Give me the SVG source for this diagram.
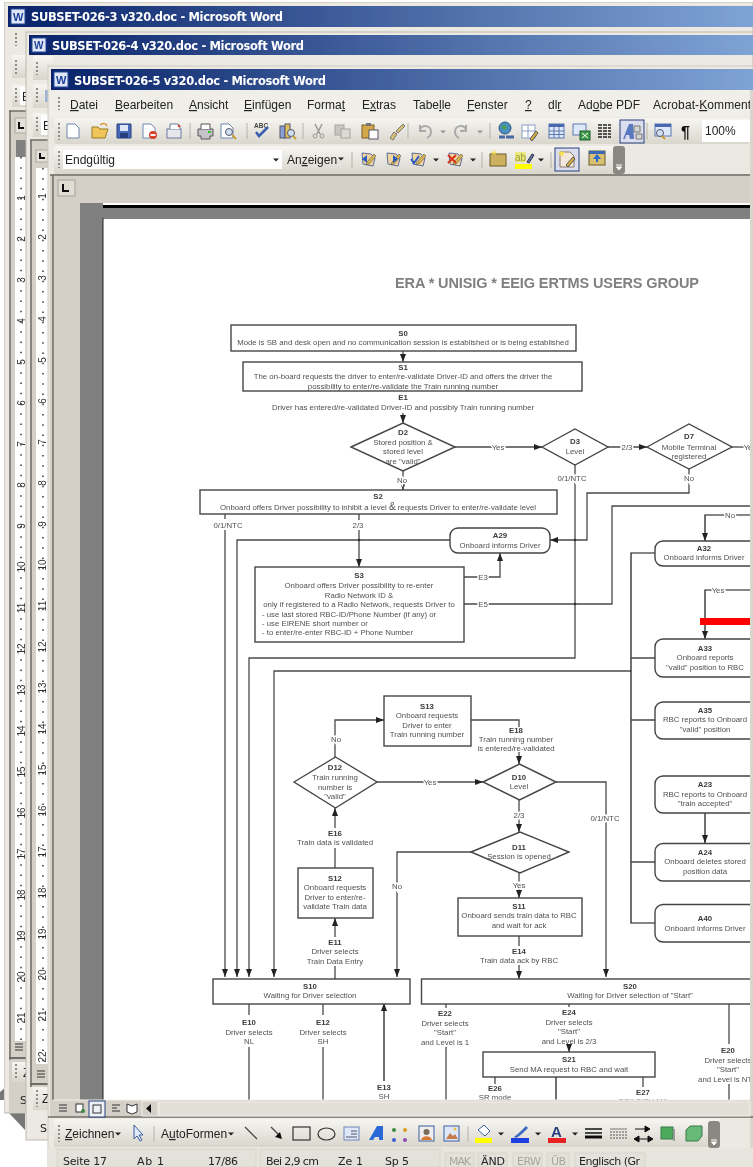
<svg xmlns="http://www.w3.org/2000/svg" width="753" height="1167" viewBox="0 0 753 1167">
<style>
.ui{font-family:"Liberation Sans",Arial,sans-serif;font-size:12px;fill:#222}
.tt{font-family:"DejaVu Sans",sans-serif;font-size:11.5px;font-weight:bold;fill:#fff}
.rn{font-family:"Liberation Sans",Arial,sans-serif;font-size:10px;fill:#333;text-anchor:middle}
.st{font-family:"DejaVu Sans",sans-serif;font-size:11px;fill:#222}
.off{fill:#a8a69f}
.u{text-decoration:underline}
.t{font-family:"Liberation Sans",Arial,sans-serif;font-size:7.8px;fill:#505050;text-anchor:middle}
.b{font-weight:bold;fill:#3a3a3a}
.l{text-anchor:start}
.h{stroke:#fff;stroke-width:3px;paint-order:stroke}
.box{fill:#fff;stroke:#444;stroke-width:1.4}
.c{fill:none;stroke:#4a4a4a;stroke-width:1.3}
.k{fill:none;stroke:#111;stroke-width:1.2}
.a{marker-end:url(#ar)}
.band{fill:url(#bandg)}
.grip{fill:none;stroke:#8f8c84;stroke-width:2;stroke-dasharray:2 2}
.sep{stroke:#b5b2a8;stroke-width:1}
.cell{fill:#e4e1da;stroke:#d8d5cc}
.dd{fill:#222}
</style>
<defs>
<linearGradient id="tb" x1="0" x2="1" y1="0" y2="0"><stop offset="0" stop-color="#0a246a"/><stop offset="1" stop-color="#7fa3d5"/></linearGradient>
<linearGradient id="bandg" x1="0" x2="0" y1="0" y2="1"><stop offset="0" stop-color="#f6f5f1"/><stop offset="1" stop-color="#d9d6cd"/></linearGradient>
<filter id="soft" x="0" y="0" width="1" height="1"><feGaussianBlur stdDeviation="0.45"/></filter>
<clipPath id="pg"><rect x="103" y="219" width="647" height="881"/></clipPath>
<clipPath id="w3"><rect x="4" y="0" width="22" height="1167"/></clipPath>
<marker id="ar" markerUnits="userSpaceOnUse" markerWidth="9" markerHeight="7" refX="8" refY="3.500" orient="auto"><path d="M0 .5L8 3.500L0 6.500z" fill="#222"/></marker>
<symbol id="doc" overflow="visible"><path d="M-6-7h8l4 4v10h-12z" fill="#fff" stroke="#6f86b0"/></symbol>
<symbol id="dico" overflow="visible"><path d="M-6-6l9 1 4 4-2 8-10-2z" fill="#f2d6a0" stroke="#5b6a9a"/><path d="M-1 3l7-8 2 2-7 8-3 1z" fill="#d9b64f" stroke="#555" stroke-width=".6"/></symbol>
<symbol id="dd" overflow="visible"><path d="M-3-1.500h6l-3 3z" class="dd"/></symbol>
</defs>
<rect width="753" height="1167" fill="#fff"/>
<path d="M0 1092L14 1080V1100H0zM9 1113H25V1130z" fill="#777"/>
<g filter="url(#soft)">
<g id="window-3">
<rect x="4" y="2" width="749" height="1111" fill="#ece9e3" stroke="#bcb9b0"/>
<rect x="8" y="6" width="745" height="21" fill="url(#tb)"/>
<rect x="11" y="9" width="14" height="15" fill="#dfe6f5" stroke="#274a9c"/><text x="13" y="21" font-family="Liberation Sans,sans-serif" font-size="11" font-weight="bold" fill="#1d3f9a">W</text>
<text class="tt" x="31" y="21" textLength="252">SUBSET-026-3 v320.doc - Microsoft Word</text>
<g clip-path="url(#w3)">
<line x1="16" y1="33" x2="16" y2="46" class="grip"/>
<rect x="12" y="55" width="20" height="23" class="band"/><line x1="16" y1="60" x2="16" y2="75" class="grip"/>
<rect x="12" y="85" width="20" height="22" class="band"/><line x1="16" y1="88" x2="16" y2="102" class="grip"/><rect x="20" y="87" width="10" height="18" fill="#fff"/><text class="ui" x="22" y="101">E</text>
<rect x="9" y="111" width="20" height="1002" fill="#d4d0c8"/><line x1="9" y1="111" x2="30" y2="111" stroke="#6e6c66" stroke-width="1.500"/><line x1="10" y1="111" x2="10" y2="1060" stroke="#6e6c66" stroke-width="1.500"/>
<rect x="15" y="118" width="14" height="15" fill="#e4e1da" stroke="#aaa79e"/><path d="M19 122v6h5" fill="none" stroke="#111" stroke-width="2"/>
<rect x="16" y="140" width="10" height="17" fill="#808080"/>
<rect x="15" y="157" width="11" height="884" fill="#fff"/>
<line x1="21" y1="157" x2="21" y2="1040" stroke="#333" stroke-width="1.500" stroke-dasharray="1.500 8.750"/>
<text class="rn" transform="translate(25 198) rotate(-90)">1</text><text class="rn" transform="translate(25 239) rotate(-90)">2</text><text class="rn" transform="translate(25 280) rotate(-90)">3</text><text class="rn" transform="translate(25 321) rotate(-90)">4</text><text class="rn" transform="translate(25 362) rotate(-90)">5</text><text class="rn" transform="translate(25 403) rotate(-90)">6</text><text class="rn" transform="translate(25 444) rotate(-90)">7</text><text class="rn" transform="translate(25 485) rotate(-90)">8</text><text class="rn" transform="translate(25 526) rotate(-90)">9</text><text class="rn" transform="translate(25 567) rotate(-90)">10</text><text class="rn" transform="translate(25 608) rotate(-90)">11</text><text class="rn" transform="translate(25 649) rotate(-90)">12</text><text class="rn" transform="translate(25 690) rotate(-90)">13</text><text class="rn" transform="translate(25 731) rotate(-90)">14</text><text class="rn" transform="translate(25 772) rotate(-90)">15</text><text class="rn" transform="translate(25 813) rotate(-90)">16</text><text class="rn" transform="translate(25 854) rotate(-90)">17</text><text class="rn" transform="translate(25 895) rotate(-90)">18</text><text class="rn" transform="translate(25 936) rotate(-90)">19</text><text class="rn" transform="translate(25 977) rotate(-90)">20</text><text class="rn" transform="translate(25 1018) rotate(-90)">21</text>
<path d="M15 1044h8M15 1047h8M15 1050h8" stroke="#333"/>
<line x1="9" y1="1058" x2="30" y2="1058" stroke="#6e6c66" stroke-width="2"/>
<rect x="12" y="1062" width="20" height="20" class="band"/><line x1="16" y1="1064" x2="16" y2="1080" class="grip"/><text class="ui" x="23" y="1077">Z</text>
<text class="st" x="20" y="1104">S</text>
</g>
</g>
<g id="window-4">
<rect x="26" y="32" width="727" height="1108" fill="#ece9e3" stroke="#bcb9b0"/>
<rect x="29" y="35" width="724" height="20" fill="url(#tb)"/>
<rect x="32" y="38" width="14" height="14" fill="#dfe6f5" stroke="#274a9c"/><text x="34" y="49" font-family="Liberation Sans,sans-serif" font-size="10" font-weight="bold" fill="#1d3f9a">W</text>
<text class="tt" x="52" y="50" textLength="252">SUBSET-026-4 v320.doc - Microsoft Word</text>
<rect x="33" y="56" width="20" height="24" class="band"/><line x1="37" y1="62" x2="37" y2="75" class="grip"/>
<rect x="33" y="84" width="20" height="24" class="band"/><line x1="37" y1="88" x2="37" y2="103" class="grip"/><rect x="45" y="90" width="6" height="12" fill="#9db3d4"/>
<rect x="33" y="113" width="20" height="24" class="band"/><line x1="37" y1="117" x2="37" y2="132" class="grip"/><rect x="41" y="115" width="10" height="20" fill="#fff"/><text class="ui" x="43" y="130">E</text>
<rect x="30" y="140" width="20" height="947" fill="#d4d0c8"/><line x1="30" y1="140" x2="50" y2="140" stroke="#6e6c66" stroke-width="1.500"/><line x1="31" y1="140" x2="31" y2="1087" stroke="#6e6c66" stroke-width="1.500"/>
<rect x="36" y="150" width="12" height="12" fill="#e4e1da" stroke="#aaa79e"/><path d="M40 153v5h5" fill="none" stroke="#111" stroke-width="2"/>
<rect x="36" y="168" width="12" height="896" fill="#fff"/>
<line x1="43" y1="168" x2="43" y2="1062" stroke="#333" stroke-width="1.500" stroke-dasharray="1.500 8.750"/>
<text class="rn" transform="translate(46 196) rotate(-90)">1</text><text class="rn" transform="translate(46 237) rotate(-90)">2</text><text class="rn" transform="translate(46 278) rotate(-90)">3</text><text class="rn" transform="translate(46 319) rotate(-90)">4</text><text class="rn" transform="translate(46 360) rotate(-90)">5</text><text class="rn" transform="translate(46 401) rotate(-90)">6</text><text class="rn" transform="translate(46 442) rotate(-90)">7</text><text class="rn" transform="translate(46 483) rotate(-90)">8</text><text class="rn" transform="translate(46 524) rotate(-90)">9</text><text class="rn" transform="translate(46 565) rotate(-90)">10</text><text class="rn" transform="translate(46 606) rotate(-90)">11</text><text class="rn" transform="translate(46 647) rotate(-90)">12</text><text class="rn" transform="translate(46 688) rotate(-90)">13</text><text class="rn" transform="translate(46 729) rotate(-90)">14</text><text class="rn" transform="translate(46 770) rotate(-90)">15</text><text class="rn" transform="translate(46 811) rotate(-90)">16</text><text class="rn" transform="translate(46 852) rotate(-90)">17</text><text class="rn" transform="translate(46 893) rotate(-90)">18</text><text class="rn" transform="translate(46 934) rotate(-90)">19</text><text class="rn" transform="translate(46 975) rotate(-90)">20</text><text class="rn" transform="translate(46 1016) rotate(-90)">21</text><text class="rn" transform="translate(46 1057) rotate(-90)">22</text>
<path d="M37 1071h8M37 1074h8M37 1077h8" stroke="#333"/>
<line x1="30" y1="1084" x2="50" y2="1084" stroke="#6e6c66" stroke-width="2"/>
<rect x="33" y="1087" width="20" height="23" class="band"/><line x1="37" y1="1090" x2="37" y2="1107" class="grip"/><text class="ui" x="42" y="1103">Z</text>
<text class="st" x="40" y="1132">S</text>
</g>
<g id="window-5">
<rect x="48" y="66" width="705" height="1101" fill="#ece9e3" stroke="#cfccc4"/>
<rect x="51" y="69" width="702" height="21" fill="url(#tb)"/>
<rect x="54" y="72" width="14" height="15" fill="#dfe6f5" stroke="#274a9c"/><text x="56" y="84" font-family="Liberation Sans,sans-serif" font-size="11" font-weight="bold" fill="#1d3f9a">W</text>
<text class="tt" x="74" y="85" textLength="252">SUBSET-026-5 v320.doc - Microsoft Word</text>
<rect x="50" y="90" width="700" height="27" fill="#efeee9"/>
<line x1="59" y1="97" x2="59" y2="110" class="grip"/>
<g class="ui">
<text x="70" y="109"><tspan class="u">D</tspan>atei</text>
<text x="115" y="109"><tspan class="u">B</tspan>earbeiten</text>
<text x="189" y="109"><tspan class="u">A</tspan>nsicht</text>
<text x="244" y="109"><tspan class="u">E</tspan>infügen</text>
<text x="307" y="109">Forma<tspan class="u">t</tspan></text>
<text x="362" y="109">E<tspan class="u">x</tspan>tras</text>
<text x="413" y="109">Tabe<tspan class="u">l</tspan>le</text>
<text x="467" y="109"><tspan class="u">F</tspan>enster</text>
<text x="525" y="109"><tspan class="u">?</tspan></text>
<text x="548" y="109">dl<tspan class="u">r</tspan></text>
<text x="578" y="109">Ad<tspan class="u">o</tspan>be PDF</text>
<text x="653" y="109" textLength="105">Acrobat-<tspan class="u">K</tspan>ommenta</text>
</g>
<rect x="54" y="118" width="696" height="26" rx="3" class="band"/>
<line x1="59" y1="123" x2="59" y2="140" class="grip"/>
<rect x="54" y="146" width="570" height="28" rx="3" class="band"/>
<line x1="59" y1="151" x2="59" y2="168" class="grip"/>
<rect x="613" y="146" width="12" height="28" rx="3" fill="#8a8880"/><path d="M616 165h6M616.500 167h5l-2.500 3z" stroke="#fff" fill="#fff"/>
<g id="toolbar-1">
<use href="#doc" x="73" y="131"/>
<path d="M92 127h6l2 2h8l-3 9H92z" fill="#f0c65a" stroke="#9c7a20"/><path d="M100 125c3-2 6-2 7 1" fill="none" stroke="#d8902a" stroke-width="1.500"/>
<path d="M117 124h14v14h-14z" fill="#4a68b8" stroke="#26407f"/><rect x="120" y="125" width="8" height="6" fill="#dfe6f5"/><rect x="120" y="133" width="8" height="5" fill="#26407f"/>
<use href="#doc" x="149" y="131"/><circle cx="153" cy="135" r="4" fill="#d8402a"/><rect x="150.500" y="134" width="5" height="2" fill="#fff"/>
<rect x="167" y="129" width="14" height="9" fill="#e8e8ec" stroke="#6a7aa0"/><path d="M170 129v-5h8l2 2v3" fill="#fff" stroke="#6a7aa0"/><circle cx="179" cy="126" r="1.300" fill="#d8402a"/>
<line x1="190" y1="123" x2="190" y2="139" class="sep"/>
<path d="M198 129h15v7h-3v3h-9v-3h-3z" fill="#c4c4c8" stroke="#555"/><path d="M201 129v-5h9v5" fill="#fff" stroke="#555"/><rect x="208" y="131" width="3" height="2" fill="#32c832"/>
<use href="#doc" x="227" y="131"/><circle cx="229" cy="132" r="3.500" fill="#cfe0f5" stroke="#556"/><path d="M232 135l4 4" stroke="#c8a030" stroke-width="2"/>
<line x1="247" y1="123" x2="247" y2="139" class="sep"/>
<text x="254" y="128" font-family="Liberation Sans,sans-serif" font-size="6.500" font-weight="bold" fill="#444">ABC</text><path d="M256 132l3 4 9-9" fill="none" stroke="#3a5fb0" stroke-width="2.500"/>
<rect x="280" y="126" width="5" height="12" fill="#8aa0d8" stroke="#556"/><rect x="285" y="124" width="5" height="14" fill="#e2c060" stroke="#556"/><circle cx="291" cy="133" r="3.500" fill="#cfe0f5" stroke="#556"/><path d="M293 136l3 3" stroke="#c8a030" stroke-width="2"/>
<line x1="303" y1="123" x2="303" y2="139" class="sep"/>
<path d="M315 124l5 10M322 124l-5 10" stroke="#9a9a9a" stroke-width="1.500"/><circle cx="315" cy="136" r="2" fill="none" stroke="#9a9a9a"/><circle cx="322" cy="136" r="2" fill="none" stroke="#9a9a9a"/>
<rect x="335" y="125" width="9" height="10" fill="#c8c6c0" stroke="#a6a49c"/><rect x="341" y="129" width="9" height="9" fill="#dcdad4" stroke="#a6a49c"/>
<rect x="362" y="125" width="12" height="13" fill="#d4a94a" stroke="#7a5e20"/><rect x="366" y="123" width="5" height="3" fill="#777"/><rect x="369" y="130" width="9" height="9" fill="#fff" stroke="#556"/>
<path d="M390 138l4-6 3 2-4 6zM396 131l7-7 2 2-7 7z" fill="#d8c070" stroke="#777"/>
<line x1="408" y1="123" x2="408" y2="139" class="sep"/>
<path d="M420 130c2-6 11-5 11 2 0 3-2 5-4 6M420 125v6h6" fill="none" stroke="#aaa" stroke-width="2"/><use href="#dd" x="443" y="132" opacity=".4"/>
<path d="M466 130c-2-6-11-5-11 2 0 3 2 5 4 6M466 125v6h-6" fill="none" stroke="#aaa" stroke-width="2"/><use href="#dd" x="480" y="132" opacity=".4"/>
<line x1="490" y1="123" x2="490" y2="139" class="sep"/>
<circle cx="505" cy="128" r="6" fill="#4a90c0" stroke="#2a5a80"/><path d="M501 127c2-3 5-2 6 1l-2 2z" fill="#4aa050"/><path d="M499 137h6M506 137h8" stroke="#4a68a8" stroke-width="3"/>
<rect x="522" y="125" width="13" height="13" fill="#fff" stroke="#8aa0c8"/><path d="M528 125v13M522 131h13" stroke="#8aa0c8"/><path d="M530 139l6-8 2 2-6 8z" fill="#d8b040" stroke="#555"/>
<rect x="549" y="124" width="15" height="14" fill="#dfe8f8" stroke="#5a78b0"/><rect x="549" y="124" width="15" height="3" fill="#4a68b0"/><path d="M554 127v11M559 127v11M549 131h15M549 134.500h15" stroke="#5a78b0"/>
<rect x="573" y="124" width="13" height="11" fill="#dfe8f8" stroke="#5a78b0"/><rect x="580" y="131" width="10" height="9" fill="#3f9a4a" stroke="#1d5f2a"/><path d="M582 133l6 5M588 133l-6 5" stroke="#fff"/>
<path d="M598 125h13M598 128h13M598 131h13M598 134h13M598 137h13" stroke="#222" stroke-width="1.500" stroke-dasharray="4 1"/>
<rect x="620" y="120" width="24" height="23" fill="#dbdcec" stroke="#26407f"/><path d="M623 139l6-15h4l1 15h-4l-1-4h-3l-1 4z" fill="#5a78c0"/><path d="M634 126h6v6h-6zM636 134h6v5h-6z" fill="#d4d4d4" stroke="#777"/>
<line x1="647" y1="123" x2="647" y2="139" class="sep"/>
<rect x="655" y="124" width="16" height="12" fill="#dfe8f8" stroke="#5a78b0"/><rect x="655" y="124" width="16" height="3" fill="#4a68b0"/><circle cx="660" cy="133" r="3.500" fill="#cfe0f5" stroke="#556"/><path d="M662 136l3 3" stroke="#c8a030" stroke-width="2"/>
<text x="681" y="138" font-family="Liberation Sans,sans-serif" font-size="16" font-weight="bold" fill="#111">¶</text>
<rect x="702" y="120" width="48" height="22" fill="#fff"/><text class="ui" x="705" y="135">100%</text>
</g>
<g id="toolbar-2">
<rect x="63" y="150" width="219" height="19" fill="#fff"/><text class="ui" x="65" y="164">Endgültig</text><use href="#dd" x="276" y="160"/>
<text class="ui" x="287" y="164">An<tspan class="u">z</tspan>eigen</text><use href="#dd" x="341" y="159"/>
<line x1="352" y1="152" x2="352" y2="168" class="sep"/>
<use href="#dico" x="368" y="159"/><path d="M362 159l5-4v8z" fill="#2a5ac0"/>
<use href="#dico" x="393" y="159"/><path d="M398 159l-5-4v8z" fill="#2a5ac0"/>
<use href="#dico" x="418" y="159"/><path d="M411 159l3 4 5-7" fill="none" stroke="#2a5ac0" stroke-width="2"/><use href="#dd" x="436" y="160"/>
<use href="#dico" x="455" y="159"/><path d="M448 155l8 8M456 155l-8 8" stroke="#d8301a" stroke-width="2"/><use href="#dd" x="473" y="160"/>
<line x1="482" y1="152" x2="482" y2="168" class="sep"/>
<rect x="490" y="154" width="16" height="12" fill="#cdb060" stroke="#6a5a2a"/><path d="M492 149l2 3 2-3-1 3 3 0-3 1 1 3-2-2-2 2 1-3-3-1h3z" fill="#f6e050"/>
<rect x="515" y="164" width="17" height="5" fill="#ffff00"/><text x="515" y="161" font-family="Liberation Sans,sans-serif" font-size="10" fill="#222">ab</text><rect x="515" y="152" width="11" height="10" fill="#e8e840" opacity=".6"/><path d="M527 162l5-8 2 1-5 8z" fill="#5a78b0" stroke="#334"/><use href="#dd" x="541" y="160"/>
<line x1="551" y1="152" x2="551" y2="168" class="sep"/>
<rect x="555" y="148" width="24" height="23" fill="#dbdcec" stroke="#26407f"/><path d="M560 152h10l4 4v11h-14z" fill="#f4e8dc" stroke="#8a7a6a"/><path d="M566 165l7-8 2 2-7 8z" fill="#d8b040" stroke="#555"/><path d="M561 149l1 3 3 0-2 2 1 3-3-2-2 2 1-3-2-2h3z" fill="#f6e050"/>
<rect x="589" y="151" width="16" height="14" fill="#d8c070" stroke="#6a5a2a"/><rect x="589" y="151" width="16" height="3" fill="#3a68b8"/><path d="M597 154l4 5h-3v3h-2v-3h-3z" fill="#2a68d0"/>
</g>
<rect x="50" y="174" width="700" height="930" fill="#d4d0c8"/>
<line x1="50" y1="175" x2="750" y2="175" stroke="#6e6c66" stroke-width="1.500"/>
<line x1="53" y1="175" x2="53" y2="1104" stroke="#6e6c66" stroke-width="1.500"/>
<rect x="58" y="180" width="17" height="16" fill="#e0ddd5" stroke="#a3a198"/><path d="M63 184v7h6" fill="none" stroke="#111" stroke-width="2"/>
<rect x="80" y="203" width="670" height="897" fill="#808080"/>
<rect x="103" y="203" width="647" height="2" fill="#fff"/>
<rect x="103" y="205" width="647" height="3" fill="#000"/>
<rect x="103" y="219" width="647" height="881" fill="#fff"/>
<line x1="103" y1="218" x2="103" y2="1100" stroke="#222"/>
</g>
<g clip-path="url(#pg)">
<text id="page-title" x="395" y="287.500" font-family="Liberation Sans,Arial,sans-serif" font-size="14.500" font-weight="bold" fill="#808080" textLength="304">ERA * UNISIG * EEIG ERTMS USERS GROUP</text>
<g id="connectors">
<path class="c a" d="M403 351V362"/>
<path class="c a" d="M403 413V423"/>
<path class="c a" d="M403 471V490"/>
<path class="c a" d="M455 447H542"/>
<path class="c a" d="M608 447H647"/>
<path class="c" d="M732 447H750"/>
<path class="c a" d="M689 468V493H587V540H550"/>
<path class="c a" d="M225 514V519M225 530V977"/>
<path class="c a" d="M359 514V520M359 530V567"/>
<path class="c a" d="M450 540H237V977"/>
<path class="c a" d="M464 577H500V553"/>
<path class="c" d="M464 604H612V506H750"/>
<path class="c a" d="M575 465V658H249V977"/>
<path class="c a" d="M631 671H274V977"/>
<path class="k" d="M655 553H631V923H655"/>
<path class="c" d="M631 658H655M631 720H655M631 862H655"/>
<path class="k a" d="M750 515H705V541"/>
<path class="k a" d="M750 590H705V639"/>
<path class="k a" d="M705 813V843"/>
<path class="c a" d="M335 757V720H384"/>
<path class="c" d="M471 720H519V727"/>
<path class="c a" d="M519 752V764"/>
<path class="c a" d="M377 782H483"/>
<path class="c a" d="M556 782H606V977"/>
<path class="c a" d="M519 800V832"/>
<path class="c a" d="M471 852H397V977"/>
<path class="c a" d="M519 873V898"/>
<path class="c" d="M519 936V946"/>
<path class="c a" d="M519 965V979"/>
<path class="c" d="M335 848V868"/>
<path class="c a" d="M335 828V808"/>
<path class="c a" d="M335 937V918"/>
<path class="c" d="M335 966V979"/>
<path class="c" d="M249 1003V1015M249 1047V1100"/>
<path class="c" d="M323 1003V1015M323 1047V1100"/>
<path class="k a" d="M384 1081V1003"/>
<path class="c" d="M446 1003V1008M446 1047V1100"/>
<path class="c" d="M569 1003V1007"/>
<path class="c a" d="M569 1045V1052"/>
<path class="c" d="M495 1077V1084"/>
<path class="k" d="M556 1077V1100"/>
<path class="c" d="M643 1077V1087"/>
<path class="c" d="M729 1003V1044M729 1084V1100"/>
<circle cx="359" cy="540" r="1.300" fill="#333"/><circle cx="575" cy="540" r="1.300" fill="#333"/><circle cx="575" cy="604" r="1.300" fill="#333"/>
</g>
<g id="S0"><rect class="box" x="231" y="325" width="345" height="26"/><text class="t b" x="403" y="336">S0</text><text class="t" x="403" y="345">Mode is SB and desk open and no communication session is established or is being established</text></g>
<g id="S1"><rect class="box" x="243" y="362" width="339" height="29"/><text class="t b" x="403" y="370">S1</text><text class="t" x="403" y="379">The on-board requests the driver to enter/re-validate Driver-ID and offers the driver the</text><text class="t" x="403" y="389">possibility to enter/re-validate the Train running number</text></g>
<g id="E1"><text class="t b" x="403" y="400">E1</text><text class="t" x="403" y="410">Driver has entered/re-validated Driver-ID and possibly Train running number</text></g>
<g id="D2"><polygon class="box" points="351,447 403,423 455,447 403,471"/><text class="t b" x="403" y="435">D2</text><text class="t" x="403" y="445">Stored  position &amp;</text><text class="t" x="403" y="454">stored level</text><text class="t" x="403" y="464">are "valid"</text></g>
<text class="t h" x="498" y="450">Yes</text><text class="t h" x="402" y="483">No</text>
<g id="D3"><polygon class="box" points="542,447 575,429 608,447 575,465"/><text class="t b" x="575" y="444">D3</text><text class="t" x="575" y="454">Level</text></g>
<text class="t h" x="627" y="450">2/3</text><text class="t h" x="572" y="481">0/1/NTC</text>
<g id="D7"><polygon class="box" points="647,447 689,424 732,447 689,469"/><text class="t b" x="689" y="439">D7</text><text class="t" x="689" y="450">Mobile Terminal</text><text class="t" x="689" y="459">registered</text></g>
<text class="t h" x="750" y="450">Yes</text><text class="t h" x="689" y="481">No</text>
<g id="S2"><rect class="box" x="200" y="490" width="357" height="24"/><text class="t b" x="378" y="499">S2</text><text class="t" x="378" y="510">Onboard offers Driver possibility to inhibit a level <tspan font-size="10">&amp;</tspan> requests Driver to enter/re-validate level</text></g>
<text class="t h" x="228" y="528">0/1/NTC</text><text class="t h" x="358" y="528">2/3</text>
<g id="A29"><rect class="box" x="450" y="528" width="100" height="25" rx="8"/><text class="t b" x="500" y="538">A29</text><text class="t" x="500" y="548">Onboard informs Driver</text></g>
<g id="S3"><rect class="box" x="255" y="567" width="209" height="75"/><text class="t b" x="359" y="578">S3</text><text class="t" x="359" y="588">Onboard offers Driver possibility to re-enter</text><text class="t" x="359" y="598">Radio Network ID &amp;</text><text class="t" x="359" y="607">only if registered to a Radio Network, requests Driver to</text><text class="t l" x="262" y="616.500">- use last stored RBC-ID/Phone Number (if any) or</text><text class="t l" x="262" y="626">- use EIRENE short number or</text><text class="t l" x="262" y="635">- to enter/re-enter RBC-ID + Phone Number</text></g>
<text class="t h" x="483" y="580">E3</text><text class="t h" x="483" y="607">E5</text>
<text class="t h" x="730" y="518">No</text><text class="t h" x="718" y="593">Yes</text>
<rect id="red-bar" x="700" y="618" width="53" height="7" fill="#f00"/>
<g id="A32"><rect class="box" x="655" y="541" width="120" height="25" rx="8"/><text class="t b" x="704" y="550.500">A32</text><text class="t" x="704" y="560">Onboard informs Driver</text></g>
<g id="A33"><rect class="box" x="655" y="639" width="120" height="38" rx="8"/><text class="t b" x="705" y="650.500">A33</text><text class="t" x="705" y="660">Onboard reports</text><text class="t" x="705" y="670">"valid" position to RBC</text></g>
<g id="A35"><rect class="box" x="655" y="702" width="120" height="37" rx="8"/><text class="t b" x="705" y="713">A35</text><text class="t" x="705" y="722">RBC reports to Onboard</text><text class="t" x="705" y="732">"valid" position</text></g>
<g id="A23"><rect class="box" x="655" y="776" width="120" height="37" rx="8"/><text class="t b" x="705" y="787">A23</text><text class="t" x="705" y="796.500">RBC reports to Onboard</text><text class="t" x="705" y="806">"train accepted"</text></g>
<g id="A24"><rect class="box" x="655" y="843.500" width="120" height="37.500" rx="8"/><text class="t b" x="705" y="855">A24</text><text class="t" x="705" y="864">Onboard deletes stored</text><text class="t" x="705" y="874">position data</text></g>
<g id="A40"><rect class="box" x="655" y="904.500" width="120" height="37.500" rx="8"/><text class="t b" x="705" y="921">A40</text><text class="t" x="705" y="930.500">Onboard informs Driver</text></g>
<g id="S13"><rect class="box" x="384" y="696" width="87" height="50"/><text class="t b" x="427" y="709">S13</text><text class="t" x="427" y="718">Onboard requests</text><text class="t" x="427" y="728">Driver to enter</text><text class="t" x="427" y="737">Train running number</text></g>
<g id="E18"><text class="t b" x="516" y="733">E18</text><text class="t" x="516" y="742">Train running number</text><text class="t" x="516" y="751">is entered/re-validated</text></g>
<g id="D12"><polygon class="box" points="294,782 335.500,757 377,782 335.500,808"/><text class="t b" x="335" y="770">D12</text><text class="t" x="335" y="780">Train running</text><text class="t" x="335" y="790">number is</text><text class="t" x="335" y="799">"valid"</text></g>
<text class="t h" x="336" y="742">No</text><text class="t h" x="430" y="785">Yes</text>
<g id="D10"><polygon class="box" points="483,782 519.500,764 556,782 519.500,800"/><text class="t b" x="519" y="780">D10</text><text class="t" x="519" y="789">Level</text></g>
<text class="t h" x="605" y="821">0/1/NTC</text><text class="t h" x="519" y="818">2/3</text>
<g id="D11"><polygon class="box" points="471,852 520,832 569,852 520,873"/><text class="t b" x="519" y="850">D11</text><text class="t" x="519" y="859">Session is opened</text></g>
<text class="t h" x="397" y="889">No</text><text class="t h" x="519" y="888">Yes</text>
<g id="S11"><rect class="box" x="458" y="898" width="124" height="38"/><text class="t b" x="519" y="909">S11</text><text class="t" x="519" y="918">Onboard sends train data to RBC</text><text class="t" x="519" y="928">and wait for ack</text></g>
<g id="E14"><text class="t b" x="519" y="954">E14</text><text class="t" x="519" y="963">Train data ack by RBC</text></g>
<g id="E16"><text class="t b" x="335" y="836">E16</text><text class="t" x="335" y="845">Train data is validated</text></g>
<g id="S12"><rect class="box" x="298" y="868" width="75" height="50"/><text class="t b" x="335" y="881">S12</text><text class="t" x="335" y="890">Onboard requests</text><text class="t" x="335" y="900">Driver to enter/re-</text><text class="t" x="335" y="909">validate Train data</text></g>
<g id="E11"><text class="t b" x="335" y="945">E11</text><text class="t" x="335" y="954">Driver selects</text><text class="t" x="335" y="964">Train Data Entry</text></g>
<g id="S10"><rect class="box" x="213" y="979" width="197" height="25"/><text class="t b" x="310" y="989">S10</text><text class="t" x="310" y="998">Waiting for Driver selection</text></g>
<g id="S20"><rect class="box" x="421.500" y="979" width="360" height="25"/><text class="t b" x="630" y="989">S20</text><text class="t" x="630" y="998">Waiting for Driver selection of "Start"</text></g>
<g id="E10"><text class="t b" x="249" y="1025">E10</text><text class="t" x="249" y="1035">Driver selects</text><text class="t" x="249" y="1044">NL</text></g>
<g id="E12"><text class="t b" x="323" y="1025">E12</text><text class="t" x="323" y="1035">Driver selects</text><text class="t" x="323" y="1044">SH</text></g>
<g id="E13"><text class="t b" x="384" y="1090">E13</text><text class="t" x="384" y="1099">SH</text></g>
<g id="E22"><text class="t b" x="445" y="1016">E22</text><text class="t" x="445" y="1026">Driver selects</text><text class="t" x="445" y="1035">"Start"</text><text class="t" x="445" y="1045">and Level is 1</text></g>
<g id="E24"><text class="t b" x="569" y="1015">E24</text><text class="t" x="569" y="1025">Driver selects</text><text class="t" x="569" y="1034">"Start"</text><text class="t" x="569" y="1044">and Level is 2/3</text></g>
<g id="S21"><rect class="box" x="483" y="1052" width="172" height="25"/><text class="t b" x="569" y="1062">S21</text><text class="t" x="569" y="1072">Send MA request to RBC and wait</text></g>
<g id="E26"><text class="t b" x="495" y="1091">E26</text><text class="t" x="495" y="1100">SR mode</text></g>
<g id="E27"><text class="t b" x="643" y="1095">E27</text><text class="t" x="643" y="1104">OS/LS/SH MA</text></g>
<g id="E20"><text class="t b" x="728" y="1053">E20</text><text class="t" x="728" y="1063">Driver selects</text><text class="t" x="728" y="1072">"Start"</text><text class="t" x="728" y="1082">and Level is NTC</text></g>
</g>
<g id="bottom-chrome">
<rect x="750" y="90" width="3" height="1077" fill="#d9d6ce"/>
<rect x="50" y="1100" width="700" height="17" fill="#d4d0c8"/>
<line x1="53" y1="1100" x2="750" y2="1100" stroke="#f2f0ea"/>
<line x1="48" y1="1117" x2="753" y2="1117" stroke="#6e6c66" stroke-width="1.500"/>
<path d="M59 1105h8M59 1108h8M59 1111h8" stroke="#333"/>
<rect x="76" y="1104" width="7" height="8" fill="#fff" stroke="#333"/><circle cx="83" cy="1111" r="2" fill="#3a8a3a"/>
<rect x="89" y="1101" width="16" height="16" fill="#eef0f8" stroke="#26407f"/><rect x="93" y="1105" width="8" height="8" fill="none" stroke="#333"/>
<path d="M112 1105h8M112 1108h5M112 1111h8" stroke="#333"/>
<path d="M127 1104l5 2 5-2v8l-5 2-5-2z" fill="#fff" stroke="#333"/>
<path d="M151 1104v9l-5-4.500z" fill="#111"/>
<rect x="142" y="1101" width="16" height="15" fill="none" stroke="#f2f0ea"/>
<rect x="159" y="1102" width="591" height="14" fill="#e2dfd7" stroke="#f2f0ea"/>
<rect x="54" y="1119" width="666" height="28" class="band"/>
<rect x="708" y="1121" width="12" height="27" rx="3" fill="#8a8880"/><path d="M711 1140h6M711.500 1142h5l-2.500 3z" stroke="#fff" fill="#fff"/>
<line x1="59" y1="1125" x2="59" y2="1142" class="grip"/>
<text class="ui" x="65" y="1138"><tspan class="u">Z</tspan>eichnen</text><use href="#dd" x="118" y="1134"/>
<path d="M134 1125v14l3-3 3 5 2-1-3-5h4z" fill="#dfe8f8" stroke="#3a5fa0"/>
<line x1="154" y1="1126" x2="154" y2="1142" class="sep"/>
<text class="ui" x="161" y="1138">A<tspan class="u">u</tspan>toFormen</text><use href="#dd" x="231" y="1134"/>
<path d="M245 1127l12 12" stroke="#444" stroke-width="1.300"/>
<path d="M271 1127l8 8" stroke="#444" stroke-width="1.300"/><path d="M282 1139l-7-2 5-5z" fill="#111"/>
<rect x="293" y="1127" width="17" height="13" fill="none" stroke="#333" stroke-width="1.200"/>
<ellipse cx="326.500" cy="1134" rx="8.500" ry="6" fill="none" stroke="#333" stroke-width="1.200"/>
<rect x="344" y="1127" width="15" height="13" fill="#dfe8f8" stroke="#6a86b8"/><path d="M351 1131h6M351 1134h6M346 1137h11" stroke="#556"/>
<path d="M369 1140l8-14h6v14h-4v-3h-4l-2 3z" fill="#2a68d8"/>
<circle cx="394" cy="1130" r="2" fill="#3a8a3a"/><circle cx="405" cy="1130" r="2" fill="#d8a020"/><circle cx="394" cy="1140" r="2" fill="#3a5fd0"/><circle cx="405" cy="1140" r="2" fill="#8a4ab0"/>
<rect x="419" y="1126" width="15" height="15" fill="#eee" stroke="#3a5fa0"/><circle cx="426.500" cy="1132" r="3" fill="#7a6a5a"/><path d="M421 1140c1-5 10-5 11 0z" fill="#d87a30"/>
<rect x="444" y="1126" width="15" height="15" fill="#dfe8f8" stroke="#3a5fa0"/><path d="M446 1139l4-6 3 3 2-2 3 5z" fill="#c87a50"/><circle cx="455" cy="1129" r="1.500" fill="#f0c040"/>
<line x1="468" y1="1126" x2="468" y2="1142" class="sep"/>
<path d="M478 1130l6-5 6 6-5 5z" fill="#fff" stroke="#3a5fa0"/><rect x="475" y="1138" width="17" height="5" fill="#ff0"/><use href="#dd" x="501" y="1134"/>
<path d="M514 1137c3-2 8-7 12-11l2 2c-4 4-8 8-12 10z" fill="#3a68c0"/><rect x="511" y="1138" width="18" height="5" fill="#1f3fe0"/><use href="#dd" x="538" y="1134"/>
<text x="551" y="1137" font-family="Liberation Sans,sans-serif" font-size="15" font-weight="bold" fill="#26407f">A</text><rect x="548" y="1138" width="18" height="5" fill="#e82020"/><use href="#dd" x="575" y="1134"/>
<path d="M585 1129h17M585 1133h17" stroke="#111" stroke-width="1.500"/><path d="M585 1137h17" stroke="#111" stroke-width="3"/>
<path d="M610 1129h17" stroke="#777"/><path d="M610 1132h17M610 1135h17M610 1138h17" stroke="#555" stroke-dasharray="2 1"/>
<path d="M635 1129h14M645 1126l5 3-5 3zM635 1139h17M639 1136l-5 3 5 3zM648 1136l5 3-5 3z" stroke="#111" fill="#111"/>
<rect x="661" y="1127" width="12" height="12" fill="#4caa5c" stroke="#3a7a4a"/><rect x="673" y="1129" width="2" height="12" fill="#999"/>
<path d="M686 1130l4-4h12v10l-4 5h-12z" fill="#68b878" stroke="#3a7a4a"/>
<rect x="48" y="1148" width="705" height="19" fill="#e8e5de"/>
<rect x="57" y="1149" width="199" height="18" class="cell"/><rect x="260" y="1149" width="180" height="18" class="cell"/>
<rect x="445" y="1153" width="29" height="14" class="cell"/><rect x="478" y="1153" width="29" height="14" class="cell"/><rect x="513" y="1153" width="29" height="14" class="cell"/><rect x="547" y="1153" width="22" height="14" class="cell"/><rect x="575" y="1153" width="70" height="14" class="cell"/>
<text class="st" x="63" y="1165" textLength="44">Seite 17</text><text class="st" x="137" y="1165" textLength="27">Ab 1</text><text class="st" x="208" y="1165" textLength="30">17/86</text>
<text class="st" x="266" y="1165" textLength="53">Bei 2,9 cm</text><text class="st" x="338" y="1165" textLength="25">Ze 1</text><text class="st" x="385" y="1165" textLength="24">Sp 5</text>
<text class="st off" x="449" y="1165" textLength="22">MAK</text><text class="st" x="481" y="1165" textLength="24">ÄND</text><text class="st off" x="517" y="1165" textLength="24">ERW</text><text class="st off" x="551" y="1165" textLength="15">ÜB</text><text class="st" x="579" y="1165" textLength="61">Englisch (Gr</text>
</g>
</g>
</svg>
